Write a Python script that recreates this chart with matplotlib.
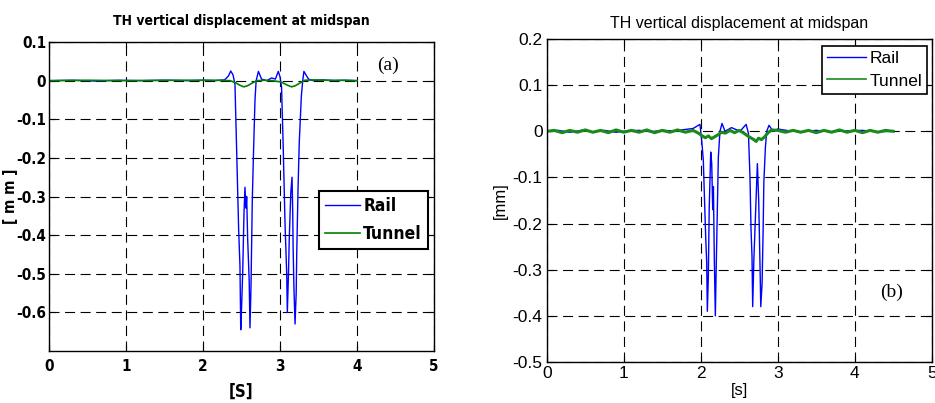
import matplotlib.pyplot as plt
from matplotlib import font_manager

# ---- datos panel (a) ----
rail_a_t = [0, 0.3, 0.6, 0.9, 1.2, 1.5, 1.8, 2.0, 2.15, 2.28, 2.33, 2.36, 2.39, 2.415,
            2.45, 2.463, 2.48, 2.49, 2.502, 2.515, 2.532, 2.545, 2.558, 2.567, 2.58,
            2.6, 2.61, 2.623, 2.64, 2.654, 2.675, 2.69, 2.72, 2.76, 2.83, 2.89, 2.94,
            2.978, 3.0, 3.02, 3.04, 3.065, 3.087, 3.095, 3.11, 3.12, 3.14, 3.156, 3.165,
            3.17, 3.18, 3.195, 3.21, 3.217, 3.234, 3.25, 3.277, 3.295, 3.31, 3.37, 3.43,
            3.55, 3.7, 3.85, 4.0]
rail_a_v = [0, 0.001, -0.001, 0.001, 0, 0.001, 0, 0.001, 0, 0.002, 0.012, 0.025, 0.015, -0.01,
            -0.284, -0.387, -0.48, -0.645, -0.58, -0.5, -0.345, -0.276, -0.33, -0.3, -0.41,
            -0.52, -0.64, -0.535, -0.31, -0.2, -0.05, 0, 0.024, 0.004, 0, 0.007, 0.004,
            0.024, 0.01, -0.017, -0.16, -0.37, -0.5, -0.6, -0.5, -0.41, -0.29, -0.25, -0.34,
            -0.43, -0.53, -0.63, -0.55, -0.45, -0.28, -0.16, -0.04, 0, 0.024, 0.004, 0,
            0.002, 0, 0.001, 0]

tunnel_a_t = [0, 0.5, 1.0, 1.5, 2.0, 2.2, 2.35, 2.42, 2.48, 2.53, 2.58, 2.64, 2.70, 2.8,
              2.9, 3.0, 3.05, 3.10, 3.15, 3.20, 3.26, 3.32, 3.45, 3.6, 3.8, 4.0]
tunnel_a_v = [0, 0.001, 0, 0.001, 0.001, 0.001, 0, -0.005, -0.012, -0.016, -0.013, -0.006, 0,
              0.001, 0, -0.003, -0.007, -0.012, -0.016, -0.013, -0.006, 0.001, 0.002, 0.001,
              0.001, 0]

# ---- datos panel (b) ----
rail_b_t = [0, 0.15, 0.3, 0.45, 0.6, 0.75, 0.9, 1.05, 1.2, 1.35, 1.5, 1.65, 1.8, 1.9, 1.99,
            2.013, 2.034, 2.047, 2.065, 2.078, 2.086, 2.099, 2.11, 2.13, 2.143, 2.156, 2.165,
            2.177, 2.19, 2.199, 2.216, 2.229, 2.25, 2.277, 2.316, 2.40, 2.51, 2.59, 2.62,
            2.64, 2.653, 2.666, 2.675, 2.69, 2.714, 2.736, 2.753, 2.77, 2.78, 2.797, 2.81,
            2.82, 2.84, 2.857, 2.887, 2.94, 3.0, 3.15, 3.3, 3.5, 3.7, 3.9, 4.1, 4.3, 4.5]
rail_b_v = [0, 0.002, -0.002, 0.002, -0.001, 0.002, -0.002, 0.001, 0.002, -0.001, 0.002, 0.001,
            0.004, 0.006, 0.015, -0.02, -0.063, -0.135, -0.23, -0.285, -0.39, -0.315, -0.17,
            -0.045, -0.07, -0.17, -0.12, -0.28, -0.40, -0.315, -0.17, -0.056, 0, 0.017, 0,
            0.008, 0, 0.015, -0.005, -0.1, -0.21, -0.27, -0.38, -0.28, -0.17, -0.07, -0.15,
            -0.29, -0.38, -0.33, -0.22, -0.11, -0.035, 0, 0.013, 0, 0.005, 0.001, -0.001,
            0.002, -0.001, 0.001, 0.002, -0.001, 0]

tunnel_b_t = [0, 0.1, 0.2, 0.3, 0.4, 0.5, 0.6, 0.7, 0.8, 0.9, 1.0, 1.1, 1.2, 1.3, 1.4, 1.5,
              1.6, 1.7, 1.8, 1.9, 1.97, 2.02, 2.06, 2.1, 2.14, 2.18, 2.22, 2.27, 2.32, 2.38,
              2.44, 2.5, 2.56, 2.61, 2.65, 2.69, 2.72, 2.75, 2.79, 2.83, 2.87, 2.92, 3.0,
              3.1, 3.2, 3.3, 3.4, 3.5, 3.6, 3.7, 3.8, 3.9, 4.0, 4.1, 4.2, 4.3, 4.4, 4.5]
tunnel_b_v = [0, 0.002, -0.003, 0.002, -0.002, 0.003, -0.002, 0.002, -0.003, 0.003, -0.002,
              0.002, -0.002, 0.003, -0.003, 0.002, -0.002, 0.003, -0.002, 0.002, -0.004,
              -0.01, -0.014, -0.01, -0.016, -0.012, -0.008, -0.002, -0.004, 0.002, -0.003,
              0.002, -0.004, -0.01, -0.014, -0.018, -0.022, -0.015, -0.018, -0.012, -0.004,
              0.003, 0.002, -0.002, 0.002, -0.002, 0.002, -0.003, 0.002, -0.002, 0.003,
              -0.002, 0.002, -0.003, 0.002, -0.002, 0.002, 0]

# fuente estrecha en negrita para el panel (a)
def fuente_a(size):
    return font_manager.FontProperties(family='DejaVu Sans', weight='bold',
                                       stretch='condensed', size=size)

arial = ['Liberation Sans', 'DejaVu Sans']
serif = ['Liberation Serif', 'DejaVu Serif']

fig = plt.figure(figsize=(9.35, 4.03), dpi=100)


def estilo(ax):
    ax.grid(True, color='black', linestyle=(0, (9, 5)), linewidth=0.8)
    ax.tick_params(direction='in', top=True, right=True, length=4, width=0.8)
    for s in ax.spines.values():
        s.set_linewidth(1.0)


# ---- panel (a) ----
ax1 = fig.add_axes([0.0524, 0.129, 0.4118, 0.7667])
ax1.plot(rail_a_t, rail_a_v, color='#0000ff', linewidth=1.0, label='Rail')
ax1.plot(tunnel_a_t, tunnel_a_v, color='#008000', linewidth=1.2, label='Tunnel')
ax1.set_xlim(0, 5)
ax1.set_ylim(-0.7, 0.1)
ax1.set_xticks([0, 1, 2, 3, 4, 5])
ax1.set_yticks([0.1, 0, -0.1, -0.2, -0.3, -0.4, -0.5, -0.6])
ax1.set_yticklabels(['0.1', '0', '-0.1', '-0.2', '-0.3', '-0.4', '-0.5', '-0.6'])
estilo(ax1)
for lab in ax1.get_xticklabels() + ax1.get_yticklabels():
    lab.set_fontproperties(fuente_a(11))
ax1.tick_params(axis='x', pad=6)
ax1.tick_params(axis='y', pad=2)
ax1.set_title('TH vertical displacement at midspan', fontproperties=fuente_a(10), pad=12)
ax1.set_xlabel('[S]', fontproperties=fuente_a(12), labelpad=6)
ax1.set_ylabel('[ m m ]', fontproperties=fuente_a(11), labelpad=-1)
ax1.text(4.4, 0.04, '(a)', family=serif, fontsize=14, ha='center', va='center')
leg1 = ax1.legend(loc='upper right', bbox_to_anchor=(0.984, 0.518), fancybox=False,
                  framealpha=1, edgecolor='black', borderaxespad=0,
                  prop=fuente_a(12.5),
                  handlelength=2.0, handletextpad=0.2, borderpad=0.35, labelspacing=0.55)
leg1.get_frame().set_linewidth(1.5)

# ---- panel (b) ----
ax2 = fig.add_axes([0.5847, 0.1017, 0.4118, 0.8015])
ax2.plot(rail_b_t, rail_b_v, color='#0000ff', linewidth=1.0, label='Rail')
ax2.plot(tunnel_b_t, tunnel_b_v, color='#1a8a1a', linewidth=2.2, label='Tunnel')
ax2.set_xlim(0, 5)
ax2.set_ylim(-0.5, 0.2)
ax2.set_xticks([0, 1, 2, 3, 4, 5])
ax2.set_yticks([0.2, 0.1, 0, -0.1, -0.2, -0.3, -0.4, -0.5])
ax2.set_yticklabels(['0.2', '0.1', '0', '-0.1', '-0.2', '-0.3', '-0.4', '-0.5'])
estilo(ax2)
for lab in ax2.get_xticklabels() + ax2.get_yticklabels():
    lab.set_family(arial)
    lab.set_fontsize(12.5)
ax2.tick_params(axis='x', pad=3)
ax2.tick_params(axis='y', pad=3)
ax2.set_title('TH vertical displacement at midspan', family=arial, fontsize=11.5, pad=8)
ax2.set_xlabel('[s]', family=arial, fontsize=12, labelpad=1)
ax2.set_ylabel('[mm]', family=arial, fontsize=12, labelpad=3)
ax2.text(4.48, -0.35, '(b)', family=serif, fontsize=14, ha='center', va='center')
leg2 = ax2.legend(loc='upper right', bbox_to_anchor=(0.988, 0.978), fancybox=False,
                  framealpha=1, edgecolor='black', borderaxespad=0,
                  prop={'family': arial, 'size': 12.5},
                  handlelength=2.2, handletextpad=0.2, borderpad=0.3, labelspacing=0.4)
leg2.get_frame().set_linewidth(1.2)
leg2.get_lines()[1].set_linewidth(1.2)

fig.savefig('out.png', dpi=100)
